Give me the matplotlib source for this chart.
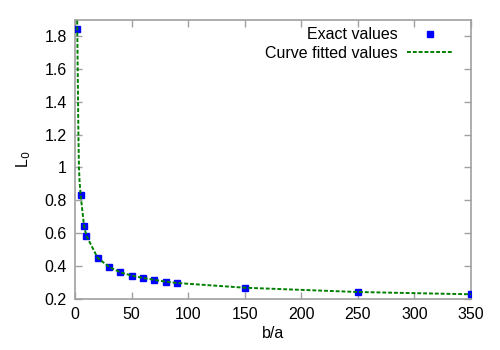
import matplotlib.pyplot as plt

plt.rcParams["font.family"] = ["Liberation Sans", "DejaVu Sans"]

# exact values
ratio = [2, 5, 8, 10, 20, 30, 40, 50, 60, 70, 80, 90, 150, 250, 350]
l0_exact = [1.84, 0.83, 0.645, 0.585, 0.45, 0.395, 0.362, 0.342, 0.328, 0.316,
            0.305, 0.297, 0.268, 0.242, 0.228]

# fitted curve values
ratio_fit = [1.8, 2, 3, 3.5, 4, 5, 8, 10, 20, 30, 40, 50, 60, 70, 80, 90,
             150, 250, 350]
l0_fit = [2.0, 1.85, 1.2, 1.0, 0.92, 0.83, 0.645, 0.585, 0.45, 0.395, 0.362,
          0.342, 0.328, 0.316, 0.305, 0.297, 0.268, 0.242, 0.228]

fs = 11.5

fig = plt.figure(figsize=(5, 3.5), dpi=100)
ax = fig.add_axes([0.15, 0.146, 0.792, 0.798])

ax.plot(ratio, l0_exact, ls="none", marker="s", ms=4.5, color="#0000ff",
        label="Exact values", zorder=3)
ax.plot(ratio_fit, l0_fit, ls=(0, (2, 1)), lw=1.4, color="#008000",
        label="Curve fitted values", zorder=4)

ax.set_xlim(0, 350)
ax.set_ylim(0.2, 1.9)
ax.set_xticks(range(0, 351, 50))
ax.set_yticks([0.2, 0.4, 0.6, 0.8, 1.0, 1.2, 1.4, 1.6, 1.8])
ax.set_yticklabels(["0.2", "0.4", "0.6", "0.8", "1", "1.2", "1.4", "1.6", "1.8"])
ax.tick_params(direction="in", top=True, right=True, length=5, width=1,
               color="#a0a0a0", labelsize=fs, pad=6)
for s in ax.spines.values():
    s.set_color("#a0a0a0")
    s.set_linewidth(1.2)

ax.set_xlabel("b/a", fontsize=fs, labelpad=3)
ax.set_ylabel("L$_0$", fontsize=fs, labelpad=8)

ax.legend(loc="upper right", bbox_to_anchor=(0.917, 0.94),
          bbox_transform=fig.transFigure, frameon=False, markerfirst=False,
          fontsize=fs, handlelength=2.8, borderaxespad=0, labelspacing=0.2,
          handletextpad=0.6)

fig.savefig("out.png", dpi=100)
